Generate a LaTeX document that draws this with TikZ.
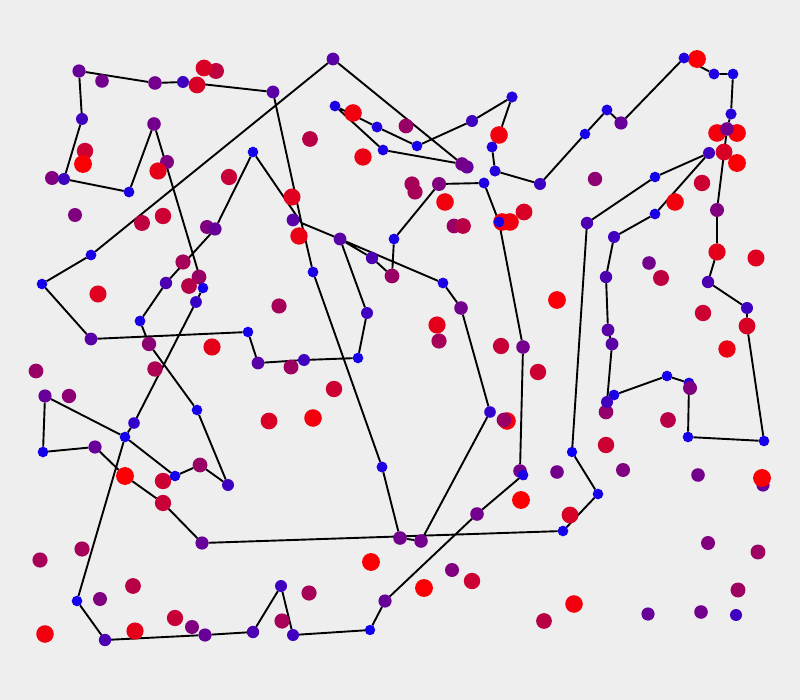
\documentclass[tikz,border=0pt]{standalone}
\pgfdeclarelayer{bg}
\pgfdeclarelayer{lines}
\pgfsetlayers{bg,lines,main}
\definecolor{bgc}{RGB}{238,238,238}
\tikzset{
  dd/.style={circle,inner sep=0pt,outer sep=0pt,draw=none,fill=red!#1!blue,minimum size={10pt+0.08pt*#1}},
  tour/.style={line width=1.9pt,black,line join=round}
}
\newcommand\mydot[3]{\node[dd=#3] (p#1x#2) at (#1,#2) {};}
\begin{document}
\begin{tikzpicture}[x=1pt,y=-1pt]
\begin{pgfonlayer}{bg}
\fill[bgc] (0,0) rectangle (800,700);
\end{pgfonlayer}
\useasboundingbox (0,0) rectangle (800,700);
% free dots
\mydot{102}{81}{45}
\mydot{216}{71}{75}
\mydot{204}{68}{85}
\mydot{85}{151}{80}
\mydot{83}{164}{98}
\mydot{52}{178}{50}
\mydot{167}{162}{50}
\mydot{158}{171}{90}
\mydot{229}{177}{78}
\mydot{75}{215}{50}
\mydot{142}{223}{75}
\mydot{163}{216}{80}
\mydot{207}{227}{50}
\mydot{183}{262}{65}
\mydot{353}{113}{95}
\mydot{406}{126}{60}
\mydot{310}{139}{72}
\mydot{363}{157}{92}
\mydot{467}{167}{40}
\mydot{292}{197}{88}
\mydot{412}{184}{65}
\mydot{415}{192}{65}
\mydot{445}{202}{95}
\mydot{454}{226}{60}
\mydot{463}{226}{72}
\mydot{524}{212}{85}
\mydot{510}{222}{95}
\mydot{502}{222}{95}
\mydot{299}{236}{92}
\mydot{697}{59}{98}
\mydot{717}{133}{95}
\mydot{737}{133}{97}
\mydot{724}{152}{85}
\mydot{737}{163}{98}
\mydot{595}{179}{55}
\mydot{702}{183}{80}
\mydot{675}{202}{95}
\mydot{756}{258}{88}
\mydot{649}{263}{45}
\mydot{661}{278}{75}
\mydot{98}{294}{88}
\mydot{199}{277}{60}
\mydot{189}{286}{72}
\mydot{212}{347}{90}
\mydot{36}{371}{60}
\mydot{155}{369}{68}
\mydot{69}{396}{55}
\mydot{269}{421}{85}
\mydot{163}{481}{80}
\mydot{82}{549}{65}
\mydot{40}{560}{65}
\mydot{133}{586}{72}
\mydot{100}{599}{50}
\mydot{135}{631}{90}
\mydot{175}{618}{78}
\mydot{192}{627}{50}
\mydot{45}{634}{95}
\mydot{279}{306}{65}
\mydot{437}{325}{90}
\mydot{439}{341}{65}
\mydot{291}{367}{62}
\mydot{334}{389}{80}
\mydot{313}{418}{95}
\mydot{501}{346}{78}
\mydot{538}{372}{80}
\mydot{507}{421}{95}
\mydot{504}{420}{60}
\mydot{557}{300}{97}
\mydot{703}{313}{80}
\mydot{727}{349}{92}
\mydot{606}{412}{58}
\mydot{668}{420}{72}
\mydot{606}{445}{80}
\mydot{557}{472}{45}
\mydot{623}{470}{50}
\mydot{698}{475}{45}
\mydot{763}{485}{40}
\mydot{762}{478}{98}
\mydot{570}{515}{85}
\mydot{708}{543}{50}
\mydot{758}{552}{62}
\mydot{738}{590}{62}
\mydot{574}{604}{95}
\mydot{544}{621}{72}
\mydot{648}{614}{40}
\mydot{701}{612}{45}
\mydot{736}{615}{25}
\mydot{521}{500}{98}
\mydot{371}{562}{98}
\mydot{452}{570}{50}
\mydot{472}{581}{80}
\mydot{424}{588}{98}
\mydot{309}{593}{65}
\mydot{282}{621}{65}
\mydot{293}{220}{35}
% tour dots
\mydot{79}{71}{40}
\mydot{155}{83}{45}
\mydot{183}{82}{25}
\mydot{197}{85}{85}
\mydot{273}{92}{35}
\mydot{82}{119}{25}
\mydot{64}{179}{25}
\mydot{129}{192}{10}
\mydot{154}{124}{45}
\mydot{253}{152}{8}
\mydot{215}{229}{40}
\mydot{91}{255}{10}
\mydot{333}{59}{35}
\mydot{335}{106}{10}
\mydot{377}{127}{12}
\mydot{383}{150}{10}
\mydot{417}{146}{8}
\mydot{472}{121}{25}
\mydot{512}{97}{15}
\mydot{499}{135}{95}
\mydot{492}{147}{12}
\mydot{495}{171}{15}
\mydot{462}{164}{45}
\mydot{439}{184}{50}
\mydot{484}{183}{12}
\mydot{499}{222}{10}
\mydot{540}{184}{25}
\mydot{340}{239}{35}
\mydot{394}{239}{10}
\mydot{372}{258}{30}
\mydot{392}{276}{60}
\mydot{313}{272}{10}
\mydot{684}{58}{12}
\mydot{714}{74}{12}
\mydot{733}{74}{10}
\mydot{731}{114}{15}
\mydot{727}{129}{45}
\mydot{709}{153}{25}
\mydot{621}{123}{40}
\mydot{607}{110}{12}
\mydot{585}{134}{8}
\mydot{655}{177}{8}
\mydot{717}{210}{50}
\mydot{587}{223}{30}
\mydot{655}{214}{10}
\mydot{614}{237}{25}
\mydot{606}{277}{30}
\mydot{717}{252}{90}
\mydot{42}{284}{8}
\mydot{203}{288}{8}
\mydot{166}{283}{30}
\mydot{196}{302}{22}
\mydot{140}{321}{10}
\mydot{91}{339}{35}
\mydot{149}{344}{55}
\mydot{248}{332}{8}
\mydot{258}{363}{35}
\mydot{45}{396}{40}
\mydot{197}{410}{8}
\mydot{134}{423}{20}
\mydot{125}{437}{8}
\mydot{43}{452}{8}
\mydot{95}{447}{40}
\mydot{200}{465}{60}
\mydot{175}{476}{8}
\mydot{228}{485}{25}
\mydot{125}{476}{98}
\mydot{163}{503}{78}
\mydot{202}{543}{40}
\mydot{77}{601}{8}
\mydot{205}{635}{40}
\mydot{253}{632}{30}
\mydot{105}{640}{30}
\mydot{367}{313}{25}
\mydot{443}{283}{10}
\mydot{461}{308}{45}
\mydot{358}{358}{8}
\mydot{304}{360}{25}
\mydot{523}{347}{45}
\mydot{490}{412}{20}
\mydot{382}{467}{12}
\mydot{608}{330}{35}
\mydot{612}{344}{35}
\mydot{708}{282}{30}
\mydot{747}{308}{25}
\mydot{747}{326}{85}
\mydot{667}{376}{8}
\mydot{689}{383}{10}
\mydot{614}{395}{10}
\mydot{607}{402}{25}
\mydot{688}{437}{8}
\mydot{764}{441}{8}
\mydot{572}{452}{5}
\mydot{520}{471}{45}
\mydot{523}{475}{10}
\mydot{598}{494}{8}
\mydot{563}{531}{8}
\mydot{477}{514}{45}
\mydot{400}{538}{45}
\mydot{421}{541}{45}
\mydot{385}{601}{40}
\mydot{281}{586}{25}
\mydot{293}{635}{25}
\mydot{370}{630}{5}
\mydot{690}{388}{50}
\coordinate (J) at (301.5,223);
\begin{pgfonlayer}{lines}
\draw[tour] (p540x184) -- (p585x134) -- (p607x110) -- (p621x123) -- (p684x58) -- (p714x74) -- (p733x74) -- (p731x114) -- (p727x129) -- (p717x210) -- (p717x252) -- (p708x282) -- (p747x308) -- (p747x326) -- (p764x441) -- (p688x437) -- (p689x383) -- (p667x376) -- (p614x395) -- (p607x402) -- (p612x344) -- (p608x330) -- (p606x277) -- (p614x237) -- (p655x214) -- (p709x153) -- (p655x177) -- (p587x223) -- (p572x452) -- (p598x494) -- (p563x531) -- (p202x543) -- (p163x503) -- (p125x476) -- (p95x447) -- (p43x452) -- (p45x396) -- (p125x437) -- (p175x476) -- (p200x465) -- (p228x485) -- (p197x410) -- (p149x344) -- (p140x321) -- (p166x283) -- (p215x229) -- (p253x152) -- (J) -- (p340x239) -- (p443x283) -- (p461x308) -- (p490x412) -- (p421x541) -- (p400x538) -- (p382x467) -- (p313x272) -- (J) -- (p273x92) -- (p183x82) -- (p155x83) -- (p79x71) -- (p82x119) -- (p64x179) -- (p129x192) -- (p154x124) -- (p203x288) -- (p196x302) -- (p134x423) -- (p125x437) -- (p77x601) -- (p105x640) -- (p205x635) -- (p253x632) -- (p281x586) -- (p293x635) -- (p370x630) -- (p385x601) -- (p477x514) -- (p523x475) -- (p520x471) -- (p523x347) -- (p499x222) -- (p484x183) -- (p439x184) -- (p394x239) -- (p392x276) -- (p372x258) -- (p340x239) -- (p367x313) -- (p358x358) -- (p304x360) -- (p258x363) -- (p248x332) -- (p91x339) -- (p42x284) -- (p91x255) -- (p333x59) -- (p462x164) -- (p383x150) -- (p335x106) -- (p377x127) -- (p417x146) -- (p472x121) -- (p512x97) -- (p499x135) -- (p492x147) -- (p495x171) -- (p540x184);
\end{pgfonlayer}
\end{tikzpicture}
\end{document}
